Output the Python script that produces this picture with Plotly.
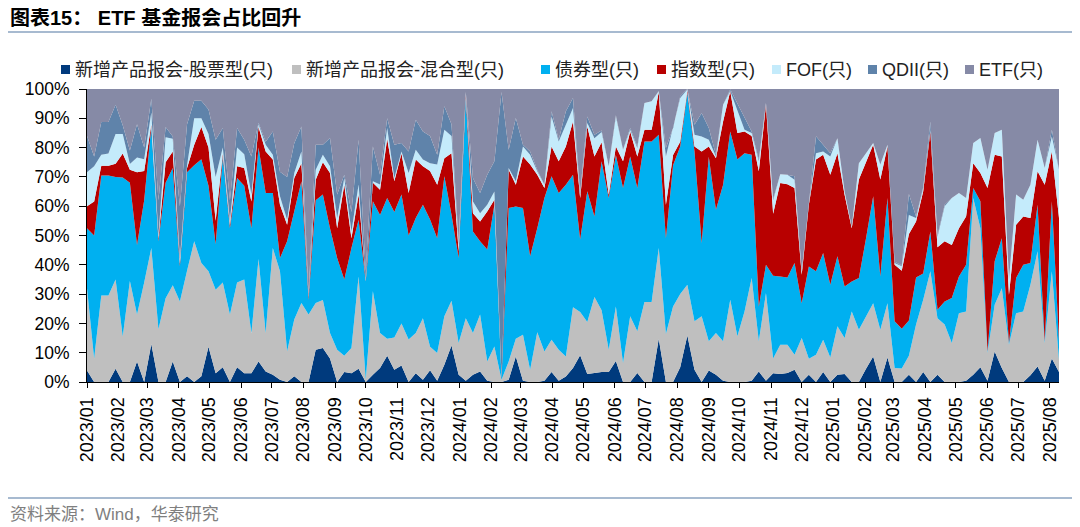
import numpy as np
import pandas as pd
import plotly.graph_objects as go

# weekly observations, Jan 2023 - Aug 2025
dates = pd.date_range("2023-01-01", periods=137, freq="7D")

# upper edge (cumulative %) of each band
stock_top = [3.9, 0, 0, 0, 4.5, 0, 0, 7, 0, 13, 0, 0, 7, 0, 2, 0, 2, 12, 3, 5,
             0, 5, 3, 3, 7, 3.6, 2.5, 0.8, 0, 2, 0, 0, 11, 11.6, 8, 0, 3.4, 3, 4.5, 0,
             2.5, 4.8, 9, 4.2, 5.6, 0, 3, 0.8, 4, 0.4, 5.9, 12.5, 2.5, 0.4, 2.5, 3.6, 0.4, 0, 0, 0.8,
             8.7, 0.4, 0, 0, 0.4, 3.4, 0.4, 1.9, 4.8, 9.1, 2.7, 3.1, 3.4, 3.4, 7.2, 0, 0, 3.1, 0, 0,
             14.8, 0, 0, 5, 15.9, 4.2, 0, 3.9, 2.5, 0.4, 0, 0, 0, 0.4, 3.6, 0.4, 3, 2.7, 3.1, 4.2,
             0, 2.5, 0, 3.4, 0, 2.5, 2.7, 0, 0, 4.5, 8.7, 0, 8.4, 0, 0, 2.5, 0, 3.4, 0, 2.5,
             0, 0, 0, 0.4, 2.5, 5, 0.4, 10.4, 4.8, 0, 0, 0, 2.3, 5.3, 0.4, 8, 3.4]
mixed_top = [32, 8, 29.5, 29.5, 35, 15.5, 34.5, 23, 34, 45.7, 18, 28.6, 33, 27.5, 38, 48, 40.6, 37.8, 31.5, 34,
             23, 34, 35, 16.7, 42, 16.7, 45.7, 37.8, 10.5, 21.3, 27, 23, 27, 28, 16.7, 11, 9, 11.6, 36, 0.8,
             31, 16.7, 14.8, 15.2, 20, 14.5, 16.7, 21.8, 12, 9.9, 22.4, 27.7, 13.3, 21.8, 16.7, 23, 7, 12.1, 0.8, 7,
             14.8, 16.1, 4.2, 17, 10.4, 14.4, 11, 8.7, 25.5, 23.9, 20.5, 29, 24.5, 11, 25.8, 6.5, 22.4, 17.3, 27.3, 27.3,
             45.7, 16.4, 25.8, 30, 33.2, 20.7, 22.4, 13.9, 16.7, 13.9, 28.1, 15.6, 24.1, 35.5, 13.9, 30.4, 8, 12.7, 12.7, 9.3,
             15, 7.9, 9.3, 14.4, 8.4, 19, 15, 24.1, 17.8, 22.4, 26.9, 17.8, 26.9, 4.8, 4.6, 9, 19.6, 28.1, 37.8, 21.8,
             19.6, 13.3, 23.5, 24.1, 62.8, 52.5, 10, 26.4, 32, 12.8, 23.5, 24.1, 33.2, 44.6, 13.3, 37.8, 7.6]
bond_top = [52.5, 50, 70.5, 70.5, 70, 69.8, 68, 46.8, 62, 87, 48, 68, 73, 39.5, 71.6, 74, 76, 67, 47, 77,
            52.5, 69.6, 67, 52.5, 80, 64.5, 64.5, 42.3, 48, 58, 68.5, 28, 62, 64, 52.5, 42.3, 35, 45.7, 55.4, 34.3,
            61.7, 57, 62.8, 58, 64, 50, 56, 60.5, 55.5, 49.1, 70.2, 57.1, 42.3, 96.9, 51.4, 48, 45.2, 60.5, 1, 59.4,
            59.9, 59.4, 42.9, 52.5, 62.8, 70.2, 64.5, 67.3, 70.7, 48.6, 65.1, 56.5, 75.3, 62.8, 77.5, 66.2, 77, 66.2, 82.1, 82.1,
            84.4, 49.1, 74, 80.4, 98.6, 78.7, 47.4, 76.9, 58.8, 67.3, 85.5, 75.9, 78.1, 77.6, 25.8, 40, 36.3, 36, 35.7, 40.6,
            26.9, 39.4, 37.8, 44, 33.2, 42.9, 32.6, 34.3, 35.5, 49.1, 63.4, 36, 62.8, 20.7, 18.2, 21, 35.7, 37, 51.4, 24.7,
            27.5, 28.7, 36, 40, 66.2, 61.7, 10.4, 41.2, 49.1, 13.3, 35.5, 40, 40.6, 60.5, 13.9, 61.7, 14]
index_top = [60, 61.6, 73.8, 73.8, 74.5, 78, 72.4, 71.6, 72, 88, 49, 75, 78.7, 40.5, 73, 81, 87, 80, 55, 78,
             53.6, 73.6, 73, 61.6, 87, 78.7, 75.9, 60.5, 53.7, 69.6, 74.7, 29, 69, 75, 71.3, 52.5, 67.3, 49.1, 64, 34.5,
             68, 65.6, 83, 68.5, 78, 64.5, 75.9, 73.6, 72, 67.3, 76.4, 78.1, 44.6, 98, 57.6, 54.8, 58.2, 62.2, 1.5, 72.4,
             67.3, 77, 74.2, 70.7, 66.2, 80.4, 75.3, 80.4, 88.9, 62.8, 87.2, 77, 81.8, 63.9, 80.4, 75.3, 85.5, 77, 86.1, 86.1,
             99, 60.5, 77.5, 82, 99.5, 80.4, 78.7, 80.4, 76.4, 88.9, 99.2, 85, 85.5, 84, 71.9, 94.6, 57.4, 67.9, 67.5, 66.2,
             36.6, 60.5, 75.9, 77.6, 70.7, 78.1, 63.9, 52.5, 69.1, 75.3, 81, 69.1, 80.4, 40, 38, 50.5, 54.8, 65.1, 85.5, 46,
             48, 46.8, 52.5, 56.5, 74.7, 71.3, 66.2, 77.6, 77, 29.8, 53.7, 56.5, 56, 71.9, 67.3, 78.7, 56]
fof_top = [71.6, 73.6, 77.6, 78, 84.6, 84.6, 74.4, 76.6, 76, 92, 50, 83.5, 83, 42, 74, 90, 90, 84.6, 70, 80,
           55, 80, 77.7, 64, 88, 81, 77.6, 63.4, 55.4, 71.3, 78.7, 29.5, 72.4, 77.6, 73.6, 56, 69.6, 51.4, 67.4, 34.9,
           68.5, 67.4, 86.7, 69.6, 78.7, 71.3, 79.3, 75.9, 74.7, 74.2, 86.1, 84, 46.8, 98.6, 61.6, 57.6, 60.5, 65, 2, 73,
           68.5, 80.4, 77.6, 71.9, 67.3, 90.6, 82.1, 87.8, 93.5, 63.9, 88.4, 83.2, 85.3, 73.6, 90.6, 79.3, 86.1, 79.9, 95.2, 95.8,
           99.2, 77, 86.7, 96.9, 99.8, 84.4, 83.8, 82.7, 77, 94.6, 99.3, 92.9, 86.1, 85, 75.3, 95.1, 62, 70.9, 70.7, 69,
           37.8, 61.1, 78.1, 78.7, 77, 83.2, 65.1, 53, 74.7, 78.1, 81.6, 74.2, 81, 40.6, 39.5, 57, 56, 66.2, 86, 49.5,
           60, 62.8, 64.5, 62.8, 81.6, 83.3, 72.4, 85, 86.1, 34.9, 64, 62.2, 67.3, 82.7, 73, 83.8, 72.5]
qdii_top = [84, 77, 88.7, 88.7, 94.6, 87.6, 79, 88, 80, 96.7, 62, 87, 83.8, 60, 88, 96, 96, 93, 82.7, 86.7,
            62, 86.7, 82.7, 77, 88.5, 82, 85.5, 71.8, 70, 81.5, 87.2, 30, 81, 81, 83.3, 64, 70.7, 58, 82.7, 37.7,
            80.4, 70.7, 90, 81, 81.6, 78.7, 89.5, 85.5, 84, 77.6, 94.1, 88, 48, 99, 69.6, 64.5, 70.7, 75.3, 99, 79.3,
            90.1, 81, 78.7, 72.4, 67.3, 92.4, 82.7, 92.4, 96.9, 64.5, 90.6, 84.4, 85.8, 73.6, 91, 79.3, 86.7, 80.4, 95.2, 95.8,
            99.3, 79.9, 86.7, 97.5, 100, 87.8, 91.8, 86.7, 77.6, 94.6, 99.8, 95.2, 90.1, 85.5, 75.9, 95.2, 62.5, 70.9, 70.7, 70.2,
            38, 61.1, 83.9, 81, 78.1, 83.2, 65.1, 53, 74.7, 78.1, 81.6, 74.2, 81, 41, 39.8, 64.2, 56.5, 66.5, 88.9, 50,
            60.5, 62.8, 64.5, 62.8, 81.6, 83.3, 72.4, 85, 86.1, 34.9, 64, 62.2, 67.3, 82.7, 73, 86.1, 72.5]
etf_top = [100] * len(dates)

names = ["新增产品报会-股票型(只)", "新增产品报会-混合型(只)", "债券型(只)", "指数型(只)",
         "FOF(只)", "QDII(只)", "ETF(只)"]
colors = ["#003a7d", "#bfbfbf", "#00b0f0", "#b80000", "#c4ebfb", "#5f83aa", "#868aa6"]
y_ticks = list(range(0, 101, 10))
y_labels = [f"{v}%" for v in y_ticks]

tops = np.array([stock_top, mixed_top, bond_top, index_top, fof_top, qdii_top, etf_top], dtype=float)
shares = np.diff(np.vstack([np.zeros(len(dates)), tops]), axis=0)

FONT = "Liberation Sans, Arial, Noto Sans CJK SC"
# the page puts the figure 8px in from the top-left, so shrink it to fit the window
OFF = 8
W, H = 1080 - OFF, 527 - OFF
L, R, T, B = 87, 1059, 89, 382  # plot area in window pixels


def px_x(x):
    return (x - L) / (R - L)


def px_y(y):
    return (B - y) / (B - T)


fig = go.Figure()
for name, color, share in zip(names, colors, shares):
    fig.add_trace(go.Scatter(
        x=dates, y=share, name=name, mode="lines", stackgroup="one",
        line=dict(width=0, color=color), fillcolor=color, showlegend=False,
    ))

# legend drawn by hand so spacing matches the original
legend_x = [61, 292, 541, 657, 772, 868, 965]
shapes = []
annotations = []
for name, color, x0 in zip(names, colors, legend_x):
    shapes.append(dict(type="rect", xref="paper", yref="paper",
                       x0=px_x(x0), x1=px_x(x0 + 9), y0=px_y(74), y1=px_y(65),
                       fillcolor=color, line=dict(width=0)))
    annotations.append(dict(text=name, xref="paper", yref="paper", x=px_x(x0 + 12), y=px_y(70),
                            xanchor="left", yanchor="middle", showarrow=False,
                            font=dict(family=FONT, size=18, color="#222222")))

# title, rules and source
annotations.append(dict(text="<b>图表15： ETF 基金报会占比回升</b>", xref="paper", yref="paper",
                        x=px_x(OFF), y=px_y(18), xanchor="left", yanchor="middle", showarrow=False,
                        font=dict(family=FONT, size=20, color="#000000")))
annotations.append(dict(text="资料来源：Wind，华泰研究", xref="paper", yref="paper",
                        x=px_x(OFF), y=px_y(514), xanchor="left", yanchor="middle", showarrow=False,
                        font=dict(family=FONT, size=17, color="#7f7f7f")))
for yy in (32, 498):
    shapes.append(dict(type="line", xref="paper", yref="paper",
                       x0=px_x(OFF), x1=px_x(1075), y0=px_y(yy), y1=px_y(yy),
                       line=dict(color="#a7bad0", width=2)))

fig.update_layout(
    width=W, height=H,
    margin=dict(l=L - OFF, r=1080 - R, t=T - OFF, b=527 - B, pad=0),
    paper_bgcolor="white", plot_bgcolor="white",
    font=dict(family=FONT, color="#000000"),
    shapes=shapes, annotations=annotations,
    hovermode="x",
)
fig.update_xaxes(
    type="date", range=[dates[0], dates[-1]],
    tick0="2023-01-01", dtick="M1", tickformat="%Y/%m", tickangle=-90,
    ticks="outside", ticklen=5, tickcolor="#000000", ticklabelstandoff=2,
    showline=True, linecolor="#000000", linewidth=1,
    showgrid=False, zeroline=False, tickfont=dict(size=18),
)
fig.update_yaxes(
    range=[0, 100], tickmode="array", tickvals=y_ticks, ticktext=y_labels,
    ticks="outside", ticklen=7, tickcolor="#000000", ticklabelstandoff=6,
    showline=True, linecolor="#000000", linewidth=1,
    showgrid=False, zeroline=False, tickfont=dict(size=17.5),
)

fig.write_html("out.html")
